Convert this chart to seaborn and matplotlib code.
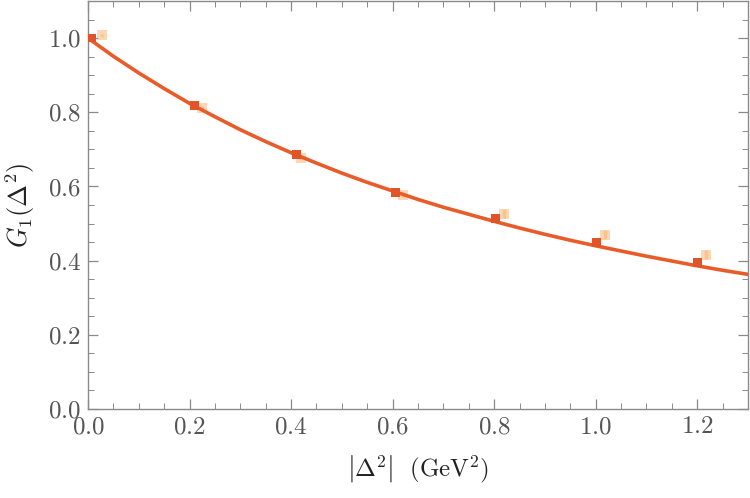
import numpy as np
import pandas as pd
import matplotlib
matplotlib.use("Agg")
import matplotlib.pyplot as plt
from matplotlib.ticker import MultipleLocator
import seaborn as sns

# Fit curve
curve_t = [0.0, 0.05, 0.1, 0.15, 0.2, 0.25, 0.3, 0.35, 0.4, 0.45, 0.5, 0.55, 0.6, 0.65,
           0.7, 0.75, 0.8, 0.85, 0.9, 0.95, 1.0, 1.05, 1.1, 1.15, 1.2, 1.25, 1.3]
curve_g = [1.0, 0.951, 0.906, 0.864, 0.824, 0.788, 0.753, 0.721, 0.691, 0.663, 0.636, 0.611,
           0.588, 0.565, 0.544, 0.525, 0.506, 0.488, 0.471, 0.455, 0.440, 0.426, 0.412,
           0.399, 0.386, 0.374, 0.363]

# Dark data points (squares)
dark_t = [0.008, 0.21, 0.41, 0.606, 0.803, 1.002, 1.200]
dark_g = [1.000, 0.818, 0.686, 0.584, 0.513, 0.449, 0.396]
dark_err = [0.004, 0.004, 0.004, 0.005, 0.006, 0.007, 0.007]

# Light data points
light_t = [0.028, 0.225, 0.42, 0.62, 0.819, 1.018, 1.217]
light_g = [1.007, 0.812, 0.676, 0.578, 0.527, 0.470, 0.416]
light_err = [0.004, 0.005, 0.006, 0.007, 0.012, 0.012, 0.012]

sns.set_style("ticks")
plt.rcParams.update({
    "font.family": "serif",
    "font.serif": ["cmr10"],
    "mathtext.fontset": "cm",
    "axes.formatter.use_mathtext": True,
})

fig = plt.figure(figsize=(7.5, 4.98), dpi=100)
ax = fig.add_axes([0.1173, 0.1787, 0.8800, 0.8193])

line_col = "#ea5b2a"
dark_col = "#e0542a"
light_col = "#fbb06a"

df_curve = pd.DataFrame({"t": curve_t, "g": curve_g})
sns.lineplot(data=df_curve, x="t", y="g", ax=ax, color=line_col, linewidth=2.6, zorder=3)

ax.errorbar(light_t, light_g, yerr=light_err, fmt="s", color=light_col, ms=6.5,
            alpha=0.5, elinewidth=2.5, capsize=0, mew=0, zorder=2)
df_dark = pd.DataFrame({"t": dark_t, "g": dark_g})
ax.errorbar(dark_t, dark_g, yerr=dark_err, fmt="none", ecolor=dark_col, elinewidth=2, zorder=4)
sns.scatterplot(data=df_dark, x="t", y="g", ax=ax, marker="s", s=40, color=dark_col,
                edgecolor="none", zorder=5)

ax.set_xlim(0, 1.3)
ax.set_ylim(0, 1.1)
ax.xaxis.set_major_locator(MultipleLocator(0.2))
ax.xaxis.set_minor_locator(MultipleLocator(0.05))
ax.yaxis.set_major_locator(MultipleLocator(0.2))
ax.yaxis.set_minor_locator(MultipleLocator(0.05))

ax.tick_params(which="both", direction="in", top=True, right=True, color="#8a8a8a",
               labelcolor="#555555", labelsize=18)
ax.tick_params(which="major", length=7, width=0.9, pad=5)
ax.tick_params(which="minor", length=4, width=0.7)
for s in ax.spines.values():
    s.set_color("#8a8a8a")
    s.set_linewidth(1.0)

ax.set_xlabel(r"$\left|\Delta^{2}_{\;}\right|\ \ (\mathrm{GeV}^2)$", fontsize=18, color="#222222", labelpad=11)
ax.set_ylabel(r"$G_1(\Delta^2)$", fontsize=19, color="#222222", labelpad=8)

fig.savefig("out.png", dpi=100)
